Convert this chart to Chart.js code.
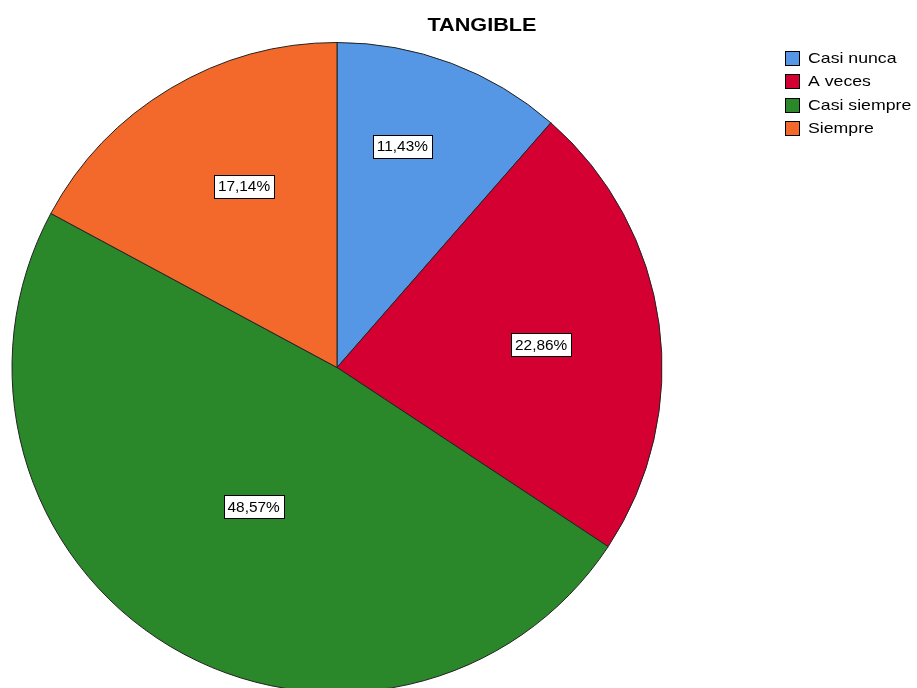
<!DOCTYPE html>
<html>
<head>
<meta charset="utf-8">
<script src="https://cdn.jsdelivr.net/npm/chart.js@4/dist/chart.umd.min.js"></script>
<style>
    body { margin: 0; background: #fff; overflow: hidden; }
    #wrap { width: 917px; height: 694px; }
</style>
</head>
<body>
<div id="wrap"><canvas id="pie-chart" width="917" height="694"></canvas></div>
<script>
var title = "TANGIBLE";
var categories = ["Casi nunca", "A veces", "Casi siempre", "Siempre"];
var percents = [11.43, 22.86, 48.57, 17.14];
var colors = ["#5597e5", "#d40032", "#2a872a", "#f2692b"];

function pctString(v) {
    return v.toFixed(2).replace(".", ",") + "%";
}

// text in the reference is a bit wider than Arial, so stretch it
function stretchText(ctx, text, x, y, sx) {
    ctx.save();
    ctx.translate(x, y);
    ctx.scale(sx, 1);
    ctx.fillText(text, 0, 0);
    ctx.restore();
}

// SPSS style labels: white box with black border inside each slice
var sliceLabels = {
    id: "sliceLabels",
    afterDatasetsDraw(chart, args, opts) {
        const ctx = chart.ctx;
        const meta = chart.getDatasetMeta(0);
        ctx.save();
        ctx.font = "14px 'Liberation Sans', Arial, sans-serif";
        ctx.textAlign = "center";
        ctx.textBaseline = "middle";
        meta.data.forEach((arc, i) => {
            const p = arc.getProps(["x", "y", "startAngle", "endAngle", "outerRadius"], true);
            const pos = opts.place[i];
            const a = p.startAngle + (p.endAngle - p.startAngle) * pos[0];
            const r = p.outerRadius * pos[1];
            const x = p.x + Math.cos(a) * r;
            const y = p.y + Math.sin(a) * r;
            const text = pctString(percents[i]);
            const w = Math.round(ctx.measureText(text).width * 1.1 + 8);
            const h = 23;
            const bx = Math.round(x - w / 2) + 0.5;
            const by = Math.round(y - h / 2) + 0.5;
            ctx.fillStyle = "#fff";
            ctx.fillRect(bx, by, w, h);
            ctx.strokeStyle = "#000";
            ctx.lineWidth = 1;
            ctx.strokeRect(bx, by, w, h);
            ctx.fillStyle = "#000";
            stretchText(ctx, text, x, y + 1, 1.1);
        });
        ctx.restore();
    }
};

// title and legend drawn where SPSS puts them
var titleLegend = {
    id: "titleLegend",
    afterDraw(chart) {
        const ctx = chart.ctx;
        ctx.save();
        ctx.fillStyle = "#000";
        ctx.font = "bold 19px 'Liberation Sans', Arial, sans-serif";
        ctx.textAlign = "center";
        ctx.textBaseline = "middle";
        stretchText(ctx, title, 482, 26, 1.14);

        ctx.font = "15px 'Liberation Sans', Arial, sans-serif";
        ctx.textAlign = "left";
        categories.forEach((c, i) => {
            const y = 57.5 + i * 23.5;
            const by = Math.round(y - 7) + 0.5;
            ctx.fillStyle = colors[i];
            ctx.fillRect(785.5, by, 14, 14);
            ctx.strokeStyle = "#000";
            ctx.lineWidth = 1;
            ctx.strokeRect(785.5, by, 14, 14);
            ctx.fillStyle = "#000";
            stretchText(ctx, c, 808, y + 1, 1.18);
        });
        ctx.restore();
    }
};

new Chart(document.getElementById("pie-chart"), {
    type: "pie",
    data: {
        labels: categories,
        datasets: [{
            data: percents,
            backgroundColor: colors,
            borderColor: "#222",
            borderWidth: 1
        }]
    },
    options: {
        responsive: false,
        animation: false,
        layout: {
            padding: { left: 11, top: 42, right: 254, bottom: 1 }
        },
        plugins: {
            legend: { display: false },
            tooltip: { enabled: false },
            // [fraction along the slice angle, fraction of the radius]
            sliceLabels: { place: [[0.40, 0.71], [0.516, 0.632], [0.50, 0.50], [0.56, 0.627]] }
        }
    },
    plugins: [sliceLabels, titleLegend]
});
</script>
</body>
</html>
